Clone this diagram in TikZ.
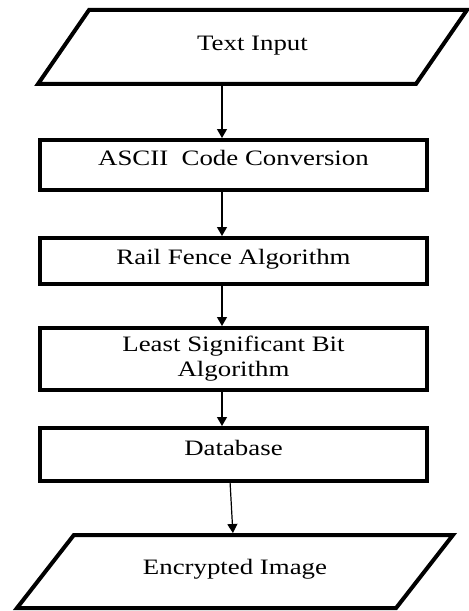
\documentclass[tikz,border=0pt]{standalone}
\usepackage{fontspec}
\setmainfont{Liberation Serif}[FakeStretch=1.22]
\usetikzlibrary{shapes.geometric,arrows.meta,positioning}

\begin{document}
\begin{tikzpicture}[
  stage/.style={draw, line width=2pt, outer sep=0pt, minimum width=193.5pt, align=center, font=\fontsize{11}{12.5}\selectfont},
  io/.style={trapezium, trapezium stretches body, draw, line width=2pt, outer sep=0pt, font=\fontsize{11}{12.5}\selectfont},
  flow/.style={-{Triangle[width=5pt,length=4.5pt]}, line width=0.6pt, shorten >=1pt, shorten <=1pt}
]
\useasboundingbox (-116.75pt,82.5pt) rectangle (117.25pt,-223pt);

% Process boxes
\node (ascii) [stage, minimum height=25pt, text depth=7pt] at (0,0) {ASCII\ \ Code Conversion};
\node (rail) [stage, minimum height=23pt, text depth=4.2pt, below=24pt of ascii] {Rail Fence Algorithm};
\node (lsb) [stage, minimum height=31pt, below=22pt of rail] {Least Significant Bit\\Algorithm};
\node (db) [stage, minimum height=26.5pt, text depth=7pt, below=19pt of lsb] {Database};

% Input and output
\node (input) [io, minimum width=214.5pt, minimum height=37pt, trapezium left angle=35, trapezium right angle=145, text depth=4pt, above=28pt of ascii, xshift=9.5pt] {Text Input};
\node (output) [io, minimum width=218pt, minimum height=36.5pt, trapezium left angle=33.6, trapezium right angle=146.4, text depth=4.6pt, below=27pt of db, xshift=0.75pt] {Encrypted Image};

% Flow
\draw[flow] ([xshift=-5.75pt]ascii.north |- input.south) -- ([xshift=-5.75pt]ascii.north);
\draw[flow] ([xshift=-5.75pt]ascii.south) -- ([xshift=-5.75pt]rail.north);
\draw[flow] ([xshift=-5.75pt]rail.south) -- ([xshift=-5.75pt]lsb.north);
\draw[flow] ([xshift=-5.75pt]lsb.south) -- ([xshift=-5.75pt]db.north);
\draw[flow] ([xshift=-1.75pt]db.south) -- ([xshift=-1pt]output.north);

\end{tikzpicture}
\end{document}
